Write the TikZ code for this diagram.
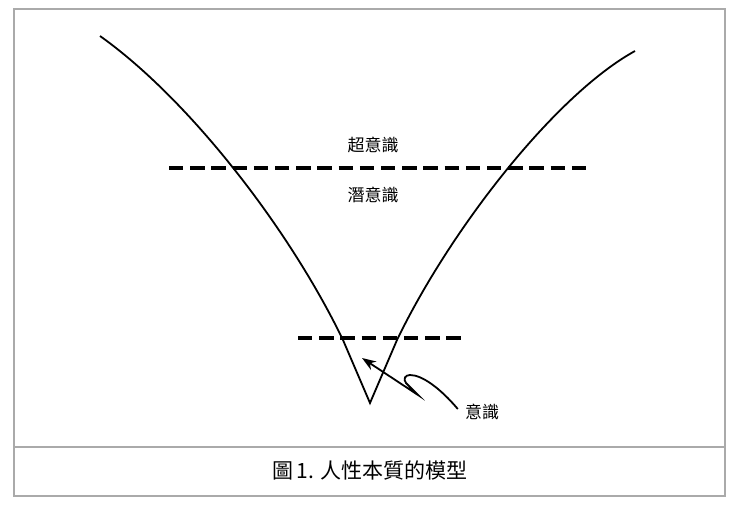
\documentclass[tikz,border=0pt]{standalone}
\usepackage{fontspec}
\setmainfont{Liberation Sans}
\newfontfamily\cjk{Noto Sans CJK TC}
\usetikzlibrary{arrows.meta}
\definecolor{framegray}{RGB}{170,170,170}

\begin{document}
\begin{tikzpicture}[x=1pt, y=-1pt,
    divide/.style={line width=3.6pt, dash pattern=on 14.4pt off 6.8pt},
    curve/.style={line width=1.8pt, line join=miter},
    cjktext/.style={font=\cjk\fontsize{17}{20}\selectfont, inner sep=0pt}]
  \useasboundingbox (0,0) rectangle (740,506);
  \draw[framegray, line width=2pt] (14,9) rectangle (725,496);
  \draw[framegray, line width=2pt] (14,447) -- (725,447);
  \node[font=\cjk\fontsize{21}{24}\selectfont] (caption) at (370,471) {圖\,1. 人性本質的模型};

  % levels
  \draw[divide] (169,168) -- (589,168);
  \draw[divide] (298,338) -- (462,338);
  \node[cjktext] (super) at (373,145) {超意識};
  \node[cjktext] (sub) at (373,195) {潛意識};

  % the V
  \coordinate (bottom) at (370,403);
  \draw[curve] (100,36) .. controls (190,100) and (290,230) .. (343,340) -- (bottom)
    -- (397,340) .. controls (450,230) and (555,95) .. (635,51);

  \node[cjktext] (conscious) at (482,412) {意識};
  \coordinate (tip) at (362,358);
  \draw[curve, -{Stealth[length=14pt,width=10pt]}] ([xshift=-7pt,yshift=3pt]conscious.west)
    .. controls (440,388) and (422,375) .. (410,375)
    .. controls (405,375) and (403,379) .. (406,383) -- (418,395) -- (tip);
\end{tikzpicture}
\end{document}
